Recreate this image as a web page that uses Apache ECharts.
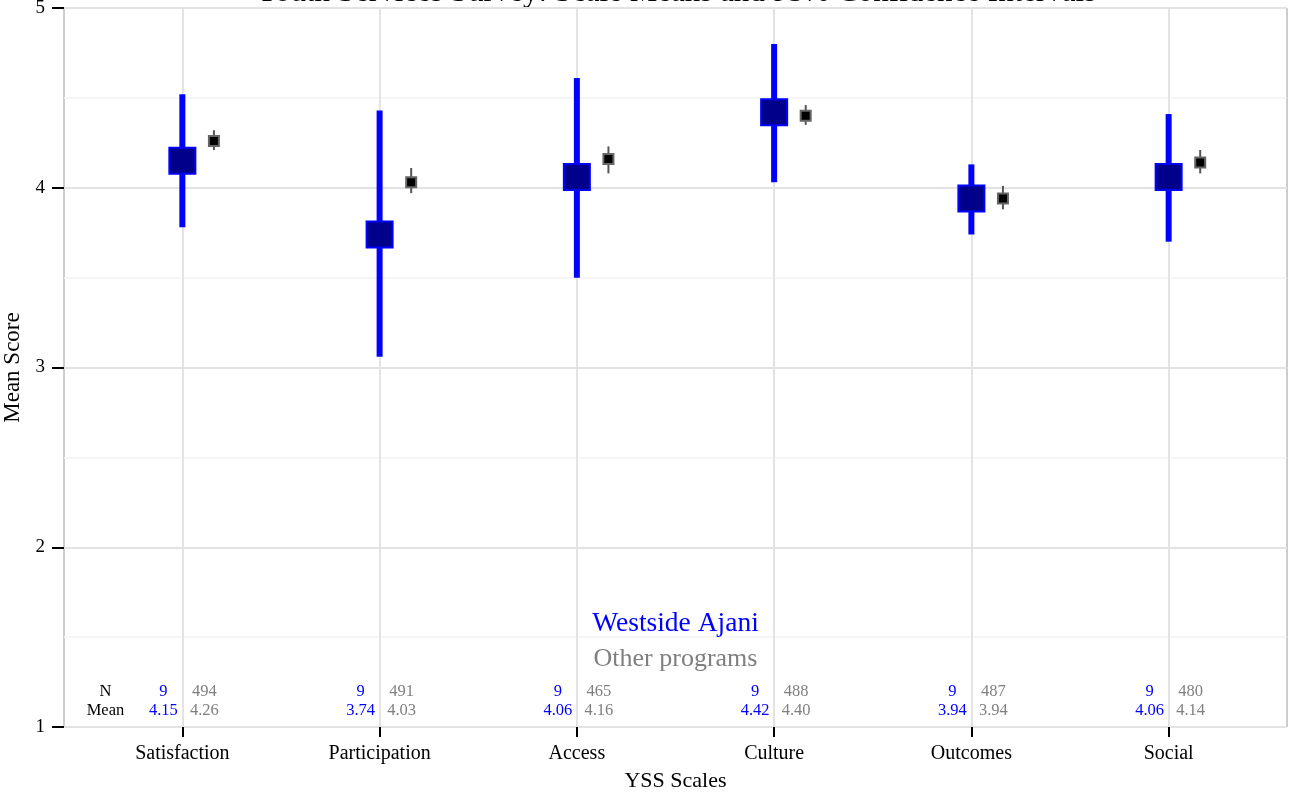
<!DOCTYPE html>
<html><head><meta charset="utf-8">
<script src="https://cdn.jsdelivr.net/npm/echarts@6/dist/echarts.min.js"></script>
<style>html,body{margin:0;padding:0;background:#fff}#c{width:1291px;height:802px}</style>
</head><body><div id="c"></div>
<script>
const categories = ['Satisfaction','Participation','Access','Culture','Outcomes','Social'];
// Westside Ajani (program)
const progMean = [4.15, 3.74, 4.06, 4.42, 3.94, 4.06];
const progLow  = [3.78, 3.06, 3.50, 4.03, 3.74, 3.70];
const progHigh = [4.52, 4.43, 4.61, 4.80, 4.13, 4.41];
const progN    = [9, 9, 9, 9, 9, 9];
// Other programs
const otherMean = [4.26, 4.03, 4.16, 4.40, 3.94, 4.14];
const otherLow  = [4.21, 3.97, 4.08, 4.35, 3.88, 4.08];
const otherHigh = [4.32, 4.11, 4.23, 4.46, 4.01, 4.21];
const otherN    = [494, 491, 465, 488, 487, 480];
const yTicks = [1, 2, 3, 4, 5];
const otherOffset = 0.16;
const FONT = '"Liberation Serif", "DejaVu Serif", serif';

const catPos = categories.map((c, i) => i + 1);
const progData = catPos.map((x, i) => [x, progLow[i], progMean[i], progHigh[i]]);
const otherData = catPos.map((x, i) => [x + otherOffset, otherLow[i], otherMean[i], otherHigh[i]]);
const annData = catPos.map((x, i) => [x, progN[i], progMean[i], otherN[i], otherMean[i]]);

function errRender(big) {
  return function (params, api) {
    const x = api.value(0);
    const lo = api.coord([x, api.value(1)]);
    const m = api.coord([x, api.value(2)]);
    const hi = api.coord([x, api.value(3)]);
    const s = big ? 26 : 10;
    return {
      type: 'group',
      children: [
        { type: 'line', shape: { x1: lo[0], y1: lo[1], x2: hi[0], y2: hi[1] },
          style: { stroke: big ? '#0000FF' : '#555555', lineWidth: big ? 6 : 2 } },
        { type: 'rect', shape: { x: m[0] - s / 2, y: m[1] - s / 2, width: s, height: s },
          style: { fill: big ? '#00008B' : '#000000', stroke: big ? '#0000FF' : '#666666', lineWidth: 2 } }
      ]
    };
  };
}

const chart = echarts.init(document.getElementById('c'), null, { renderer: 'canvas' });
chart.setOption({
  animation: false,
  backgroundColor: '#ffffff',
  graphic: [{
    type: 'text', x: 676, y: 8,
    style: { text: 'Youth Services Survey: Scale Means and 95% Confidence Intervals',
      font: '31px ' + FONT, fill: '#000', textAlign: 'center', textVerticalAlign: 'bottom' }
  }],
  grid: { left: 64, right: 4, top: 8, bottom: 75, outerBoundsMode: 'none', containLabel: false,
    show: true, borderColor: '#9a9a9a', borderWidth: 1, backgroundColor: '#ffffff' },
  xAxis: {
    type: 'value', min: 0.4, max: 6.6,
    name: 'YSS Scales', nameLocation: 'middle', nameGap: 43,
    nameTextStyle: { fontFamily: FONT, fontSize: 22, color: '#000' },
    axisLine: { show: false },
    axisTick: { show: true, customValues: catPos, length: 10, lineStyle: { color: '#000', width: 2 } },
    axisLabel: { show: true, customValues: catPos, margin: 17, fontFamily: FONT, fontSize: 20, color: '#000',
      formatter: v => categories[Math.round(v) - 1] || '' },
    splitLine: { show: false }
  },
  yAxis: {
    type: 'value', min: 1, max: 5, interval: 1,
    name: 'Mean Score', nameLocation: 'middle', nameGap: 40,
    nameTextStyle: { fontFamily: FONT, fontSize: 23, color: '#000' },
    axisLine: { show: false },
    axisTick: { show: true, length: 12, lineStyle: { color: '#000', width: 2 } },
    axisLabel: { margin: 19, fontFamily: FONT, fontSize: 19, color: '#000',
      formatter: v => yTicks.includes(v) ? String(v) : '' },
    splitLine: { show: true, lineStyle: { color: '#e3e3e3', width: 2 } },
    minorTick: { show: false, splitNumber: 2 },
    minorSplitLine: { show: true, lineStyle: { color: '#f3f3f3', width: 1.5 } }
  },
  series: [
    {
      type: 'line', data: [], silent: true, z: 1,
      markLine: {
        silent: true, symbol: 'none', label: { show: false }, animation: false,
        lineStyle: { color: '#e3e3e3', width: 2, type: 'solid' },
        data: catPos.map(x => ({ xAxis: x }))
      }
    },
    { type: 'custom', name: 'Westside Ajani', data: progData, renderItem: errRender(true), z: 5,
      encode: { x: 0, y: [1, 3] } },
    { type: 'custom', name: 'Other programs', data: otherData, renderItem: errRender(false), z: 5,
      encode: { x: 0, y: [1, 3] } },
    {
      type: 'custom', name: 'annotations', data: annData, z: 6, silent: true,
      encode: { x: 0, y: 1 },
      renderItem: function (params, api) {
        const x = api.value(0);
        const pN = api.coord([x, 1.195]);
        const pM = api.coord([x, 1.09]);
        const f = '16.5px ' + FONT;
        const children = [
          { type: 'text', x: pN[0] - 19, y: pN[1], style: { text: String(api.value(1)), font: f, fill: '#0000FF', textAlign: 'center', textVerticalAlign: 'middle' } },
          { type: 'text', x: pM[0] - 19, y: pM[1], style: { text: api.value(2).toFixed(2), font: f, fill: '#0000FF', textAlign: 'center', textVerticalAlign: 'middle' } },
          { type: 'text', x: pN[0] + 22, y: pN[1], style: { text: String(api.value(3)), font: f, fill: '#808080', textAlign: 'center', textVerticalAlign: 'middle' } },
          { type: 'text', x: pM[0] + 22, y: pM[1], style: { text: api.value(4).toFixed(2), font: f, fill: '#808080', textAlign: 'center', textVerticalAlign: 'middle' } }
        ];
        if (params.dataIndex === 0) {
          const lN = api.coord([0.61, 1.195]);
          const lM = api.coord([0.61, 1.09]);
          children.push(
            { type: 'text', x: lN[0], y: lN[1], style: { text: 'N', font: f, fill: '#000', textAlign: 'center', textVerticalAlign: 'middle' } },
            { type: 'text', x: lM[0], y: lM[1], style: { text: 'Mean', font: f, fill: '#000', textAlign: 'center', textVerticalAlign: 'middle' } }
          );
          const l1 = api.coord([3.5, 1.573]);
          const l2 = api.coord([3.5, 1.378]);
          children.push(
            { type: 'text', x: l1[0], y: l1[1], style: { text: 'Westside Ajani', font: '27.5px ' + FONT, fill: '#0000FF', textAlign: 'center', textVerticalAlign: 'middle' } },
            { type: 'text', x: l2[0], y: l2[1], style: { text: 'Other programs', font: '26px ' + FONT, fill: '#7f7f7f', textAlign: 'center', textVerticalAlign: 'middle' } }
          );
        }
        return { type: 'group', children: children };
      }
    }
  ]
});
</script>
</body></html>
